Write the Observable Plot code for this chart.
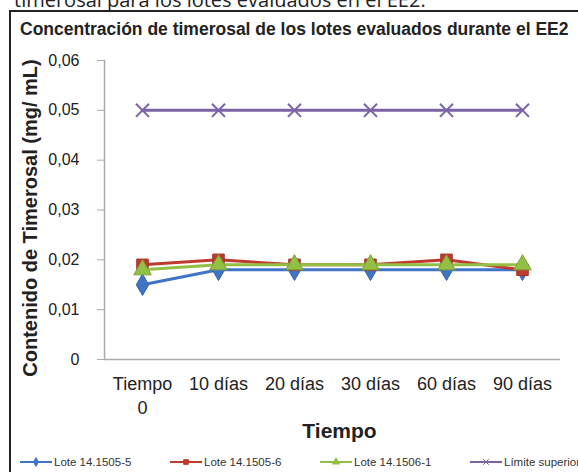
<!DOCTYPE html>
<html><head><meta charset="utf-8">
<script src="https://cdn.jsdelivr.net/npm/d3@7"></script>
<script src="https://cdn.jsdelivr.net/npm/@observablehq/plot@0.6"></script>
<style>
body{margin:0;width:578px;height:472px;overflow:hidden;background:#fff;position:relative;font-family:"Liberation Sans",Arial,sans-serif}
#caption{position:absolute;left:14px;top:-14px;font-family:"Open Sans",sans-serif;font-size:20px;line-height:27px;color:#222;white-space:nowrap}
#box{position:absolute;left:9px;top:10px;width:620px;height:520px;border:2px solid #222;box-sizing:border-box}
#title{position:absolute;left:20px;top:19px;font-weight:bold;font-size:17.5px;line-height:20px;color:#222;white-space:nowrap}
#chart{position:absolute;left:0;top:40px}
#legend{position:absolute;left:20px;top:456px;display:flex;font-size:11.5px;color:#333;white-space:nowrap}
#legend .item{width:150px;display:flex;align-items:center}
#legend svg{margin-right:2px}
</style></head>
<body>
<div id="caption">timerosal para los lotes evaluados en el EE2.</div>
<div id="box"></div>
<div id="title">Concentración de timerosal de los lotes evaluados durante el EE2</div>
<div id="chart"></div>
<div id="legend"></div>
<script>
const tiempos = ["Tiempo 0", "10 días", "20 días", "30 días", "60 días", "90 días"];
const tickLabels = ["Tiempo\n0", "10 días", "20 días", "30 días", "60 días", "90 días"];
const seriesNames = ["Lote 14.1505-5", "Lote 14.1505-6", "Lote 14.1506-1", "Límite superior"];
const lote1505_5 = [0.015, 0.018, 0.018, 0.018, 0.018, 0.018];
const lote1505_6 = [0.019, 0.020, 0.019, 0.019, 0.020, 0.018];
const lote1506_1 = [0.018, 0.019, 0.019, 0.019, 0.019, 0.019];
const limiteSuperior = [0.05, 0.05, 0.05, 0.05, 0.05, 0.05];
const yTicks = [0, 0.01, 0.02, 0.03, 0.04, 0.05, 0.06];
const colors = ["#3f74c6", "#c0392f", "#93bf45", "#7c63a6"];
const symbols = ["diamond", "square", "triangle", "times"];
const seriesValues = [lote1505_5, lote1505_6, lote1506_1, limiteSuperior];

const fmt = d => d === 0 ? "0" : d.toFixed(2).replace(".", ",");
const marks = [
  Plot.ruleY([0], {stroke: "#aaa", strokeWidth: 1.5}),
  Plot.frame({anchor: "left", stroke: "#aaa", strokeWidth: 1.5}),
  Plot.axisY({ticks: yTicks, tickFormat: fmt, tickSize: 7, tickPadding: 18, fontSize: 16, stroke: "#aaa", label: null, fill: "#222"}),
  Plot.axisX({tickSize: 0, tickPadding: 14, fontSize: 18, lineHeight: 1.3, tickFormat: (d, i) => tickLabels[tiempos.indexOf(d)], label: null, fill: "#222"}),
  Plot.text(["Contenido de Timerosal (mg/ mL)"], {frameAnchor: "left", textAnchor: "middle", rotate: -90, dx: -74, dy: 8, fontWeight: "bold", fontSize: 20, fill: "#222"}),
  Plot.text(["Tiempo"], {frameAnchor: "bottom", dy: 78, dx: 7, fontWeight: "bold", fontSize: 21, fill: "#222"})
];
seriesValues.forEach((vals, k) => {
  const data = tiempos.map((t, i) => ({t, v: vals[i]}));
  marks.push(Plot.line(data, {x: "t", y: "v", stroke: colors[k], strokeWidth: 3}));
  if (symbols[k] === "times") {
    marks.push(Plot.dot(data, {x: "t", y: "v", symbol: "times", stroke: colors[k], strokeWidth: 2, r: 6}));
  } else {
    marks.push(Plot.dot(data, {x: "t", y: "v", symbol: symbols[k], fill: colors[k], stroke: d3.color(colors[k]).darker(0.5).formatHex(), strokeWidth: 1, r: symbols[k] === "square" ? 6.5 : 6.5}));
  }
});
const chart = Plot.plot({
  width: 578, height: 410,
  marginLeft: 104, marginRight: 18, marginTop: 20, marginBottom: 91,
  style: {fontFamily: "'Liberation Sans', Arial, sans-serif", background: "transparent", overflow: "visible"},
  x: {type: "band", domain: tiempos, padding: 0},
  y: {domain: [0, 0.06]},
  marks
});
document.getElementById("chart").append(chart);

const leg = d3.select("#legend");
seriesNames.forEach((name, k) => {
  const it = leg.append("div").attr("class", "item");
  const s = it.append("svg").attr("width", 32).attr("height", 12);
  s.append("line").attr("x1", 0).attr("x2", 32).attr("y1", 6).attr("y2", 6).attr("stroke", colors[k]).attr("stroke-width", 2);
  const sym = {diamond: d3.symbolDiamond, square: d3.symbolSquare, triangle: d3.symbolTriangle, times: d3.symbolTimes}[symbols[k]];
  s.append("path").attr("transform", "translate(16,6)").attr("d", d3.symbol(sym, 22)())
    .attr("fill", symbols[k] === "times" ? "none" : colors[k]).attr("stroke", colors[k]).attr("stroke-width", 1);
  it.append("span").text(name);
});
</script>
</body></html>
